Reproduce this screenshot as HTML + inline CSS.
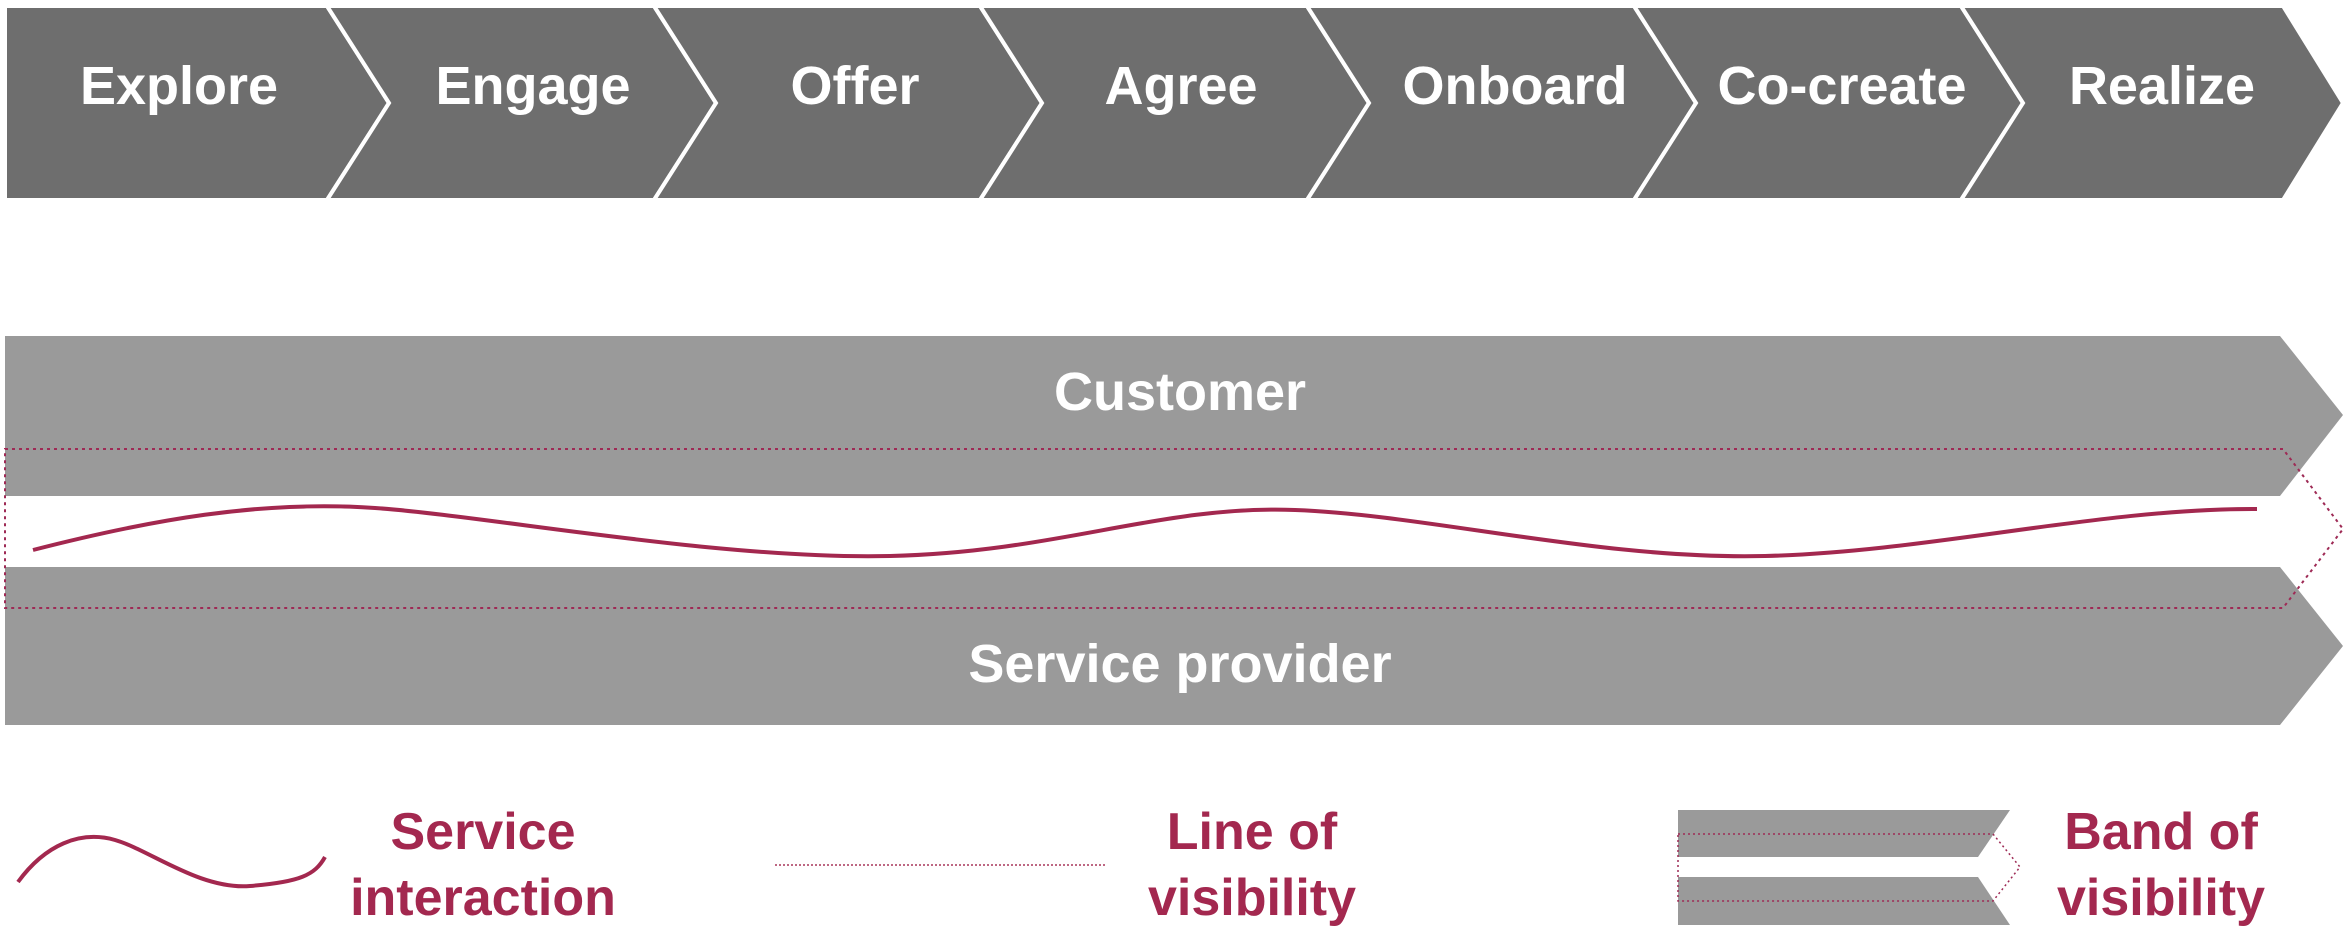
<!DOCTYPE html>
<html><head><meta charset="utf-8"><style>
html,body{margin:0;padding:0;background:#fff;}
svg{display:block;}
text{font-family:"Liberation Sans",sans-serif;font-weight:bold;}
</style></head><body>
<svg width="2349" height="943" viewBox="0 0 2349 943" xmlns="http://www.w3.org/2000/svg">
<g fill="#6e6e6e" stroke="#fff" stroke-width="4" stroke-linejoin="miter">
<polygon points="5,6 327,6 389,103 327,200 5,200"/>
<polygon points="327,6 654,6 716,103 654,200 327,200 389,103"/>
<polygon points="654,6 980,6 1042,103 980,200 654,200 716,103"/>
<polygon points="980,6 1307,6 1369,103 1307,200 980,200 1042,103"/>
<polygon points="1307,6 1634,6 1696,103 1634,200 1307,200 1369,103"/>
<polygon points="1634,6 1961,6 2023,103 1961,200 1634,200 1696,103"/>
<polygon points="1961,6 2283,6 2343,103 2283,200 1961,200 2023,103"/>
</g>
<g fill="#fff" font-size="54" text-anchor="middle">
<text x="179" y="104">Explore</text>
<text x="533" y="104">Engage</text>
<text x="855" y="104">Offer</text>
<text x="1181" y="104">Agree</text>
<text x="1515" y="104">Onboard</text>
<text x="1842" y="104">Co-create</text>
<text x="2162" y="104">Realize</text>
</g>
<polygon points="5,336 2280,336 2343,415 2280,496 5,496" fill="#9a9a9a"/>
<polygon points="5,567 2280,567 2343,646 2280,725 5,725" fill="#9a9a9a"/>
<text x="1180" y="410" fill="#fff" font-size="54" text-anchor="middle">Customer</text>
<text x="1180" y="682" fill="#fff" font-size="54" text-anchor="middle">Service provider</text>
<path d="M5,449 L2283,449 L2343,529 L2283,608 L5,608 Z" fill="none" stroke="#9e2a55" stroke-width="2" stroke-dasharray="3,4"/>
<path d="M33,550 C150,520 260,500 375,508 S720,560 890,556 S1160,505 1295,510 S1600,560 1765,556 S2100,508 2257,509" fill="none" stroke="#a3284f" stroke-width="4"/>
<path d="M18,882 C45,845 80,830 115,840 S200,890 250,886 S315,875 325,857" fill="none" stroke="#a3284f" stroke-width="4"/>
<line x1="775" y1="865" x2="1105" y2="865" stroke="#a3284f" stroke-width="2" stroke-dasharray="2,2" opacity="0.7"/>
<polygon points="1678,810 2010,810 1978,857 1678,857" fill="#9a9a9a"/>
<polygon points="1678,877 1978,877 2010,925 1678,925" fill="#9a9a9a"/>
<path d="M1678,834 L1993,834 L2020,867 L1993,901 L1678,901 Z" fill="none" stroke="#9e2a55" stroke-width="1.5" stroke-dasharray="2,3"/>
<g fill="#a3284f" font-size="52" text-anchor="middle">
<text x="483" y="849">Service</text>
<text x="483" y="915">interaction</text>
<text x="1252" y="849">Line of</text>
<text x="1252" y="915">visibility</text>
<text x="2161" y="849">Band of</text>
<text x="2161" y="915">visibility</text>
</g>
</svg>
</body></html>
